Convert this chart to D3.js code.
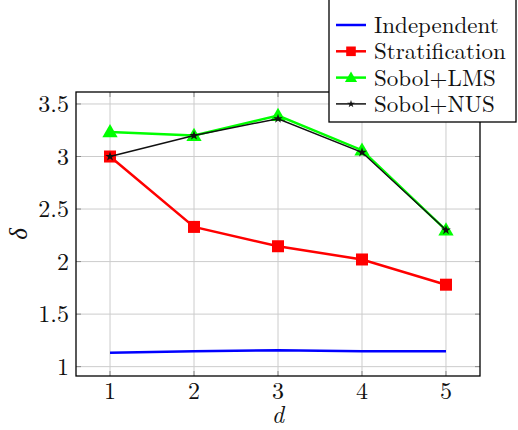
<!DOCTYPE html>
<html>
<head>
<meta charset="utf-8" />
<script src="https://d3js.org/d3.v7.min.js"></script>
<style>
  body { margin: 0; background: #fff; }
  text { font-family: "Latin Modern Roman", "Liberation Serif", serif; fill: #111; }
</style>
</head>
<body>
<div id="chart"></div>
<script>
// data
var dims = [1, 2, 3, 4, 5];
var independent = [1.133, 1.147, 1.156, 1.147, 1.147];
var stratification = [3.0, 2.33, 2.146, 2.02, 1.78];
var sobolLMS = [3.234, 3.20, 3.39, 3.06, 2.30];
var sobolNUS = [3.0, 3.20, 3.36, 3.04, 2.30];
var xTicks = [1, 2, 3, 4, 5];
var yTicks = [1, 1.5, 2, 2.5, 3, 3.5];
var seriesNames = ["Independent", "Stratification", "Sobol+LMS", "Sobol+NUS"];

var series = [
  { name: seriesNames[0], values: independent, color: "#0000ff", width: 2.5, mark: "none" },
  { name: seriesNames[1], values: stratification, color: "#ff0000", width: 2.5, mark: "square" },
  { name: seriesNames[2], values: sobolLMS, color: "#00ff00", width: 2.5, mark: "triangle" },
  { name: seriesNames[3], values: sobolNUS, color: "#111111", width: 1.5, mark: "star" }
];

var W = 518, H = 430;
var pLeft = 76, pRight = 480, pTop = 92, pBottom = 376;

var svg = d3.select("#chart").append("svg")
    .attr("width", W).attr("height", H);

var x = d3.scaleLinear().domain([0.595, 5.405]).range([pLeft, pRight]);
var y = d3.scaleLinear().domain([0.911, 3.614]).range([pBottom, pTop]);

// grid
svg.append("g").selectAll("line").data(xTicks).enter().append("line")
    .attr("x1", d => x(d)).attr("x2", d => x(d))
    .attr("y1", pTop).attr("y2", pBottom)
    .attr("stroke", "#cccccc").attr("stroke-width", 1);
svg.append("g").selectAll("line").data(yTicks).enter().append("line")
    .attr("x1", pLeft).attr("x2", pRight)
    .attr("y1", d => y(d)).attr("y2", d => y(d))
    .attr("stroke", "#cccccc").attr("stroke-width", 1);

// inward tick marks
var tk = 5;
var tg = svg.append("g").attr("stroke", "#888").attr("stroke-width", 1);
xTicks.forEach(function(d) {
  tg.append("line").attr("x1", x(d)).attr("x2", x(d)).attr("y1", pBottom).attr("y2", pBottom - tk);
  tg.append("line").attr("x1", x(d)).attr("x2", x(d)).attr("y1", pTop).attr("y2", pTop + tk);
});
yTicks.forEach(function(d) {
  tg.append("line").attr("x1", pLeft).attr("x2", pLeft + tk).attr("y1", y(d)).attr("y2", y(d));
  tg.append("line").attr("x1", pRight).attr("x2", pRight - tk).attr("y1", y(d)).attr("y2", y(d));
});

// frame
svg.append("rect").attr("x", pLeft).attr("y", pTop)
    .attr("width", pRight - pLeft).attr("height", pBottom - pTop)
    .attr("fill", "none").attr("stroke", "#000").attr("stroke-width", 1.3);

// tick labels
svg.append("g").selectAll("text").data(xTicks).enter().append("text")
    .attr("x", d => x(d)).attr("y", pBottom + 23)
    .attr("text-anchor", "middle").attr("font-size", 24)
    .text(d => d);
svg.append("g").selectAll("text").data(yTicks).enter().append("text")
    .attr("x", pLeft - 7).attr("y", d => y(d) + 8)
    .attr("text-anchor", "end").attr("font-size", 24)
    .text(d => d);

// axis labels
svg.append("text").attr("x", x(3)).attr("y", 423)
    .attr("text-anchor", "middle").attr("font-size", 24).attr("font-style", "italic")
    .text("d");
svg.append("text").attr("transform", "translate(27," + ((pTop + pBottom) / 2) + ") rotate(-90)")
    .attr("text-anchor", "middle").attr("font-size", 25).attr("font-style", "italic")
    .text("δ");

var line = d3.line().x((d, i) => x(dims[i])).y(d => y(d));

function drawMark(g, type, cx, cy, color, s) {
  if (type === "square") {
    g.append("rect").attr("x", cx - s / 2).attr("y", cy - s / 2)
      .attr("width", s).attr("height", s).attr("fill", color);
  } else if (type === "triangle") {
    g.append("path").attr("d", d3.symbol().type(d3.symbolTriangle).size(s * s * 0.7)())
      .attr("transform", "translate(" + cx + "," + (cy + 1) + ")").attr("fill", color);
  } else if (type === "star") {
    g.append("path").attr("d", d3.symbol().type(d3.symbolStar).size(s * s * 0.35)())
      .attr("transform", "translate(" + cx + "," + cy + ")").attr("fill", color);
  }
}

var markSize = { square: 12, triangle: 12, star: 9 };

series.forEach(function(s) {
  var g = svg.append("g");
  g.append("path").datum(s.values).attr("d", line)
    .attr("fill", "none").attr("stroke", s.color).attr("stroke-width", s.width);
  s.values.forEach(function(v, i) {
    drawMark(g, s.mark, x(dims[i]), y(v), s.color, markSize[s.mark]);
  });
});

// legend
var lg = svg.append("g");
lg.append("rect").attr("x", 329).attr("y", -1).attr("width", 187).attr("height", 123)
  .attr("fill", "#fff").attr("stroke", "#000").attr("stroke-width", 1.3);
series.forEach(function(s, i) {
  var cy = 25 + i * 26.3;
  lg.append("line").attr("x1", 336).attr("x2", 366).attr("y1", cy).attr("y2", cy)
    .attr("stroke", s.color).attr("stroke-width", s.width);
  drawMark(lg, s.mark, 351, cy, s.color, markSize[s.mark] * 0.8);
  lg.append("text").attr("x", 374).attr("y", cy + 8).attr("font-size", 23)
    .text(s.name);
});
</script>
</body>
</html>
